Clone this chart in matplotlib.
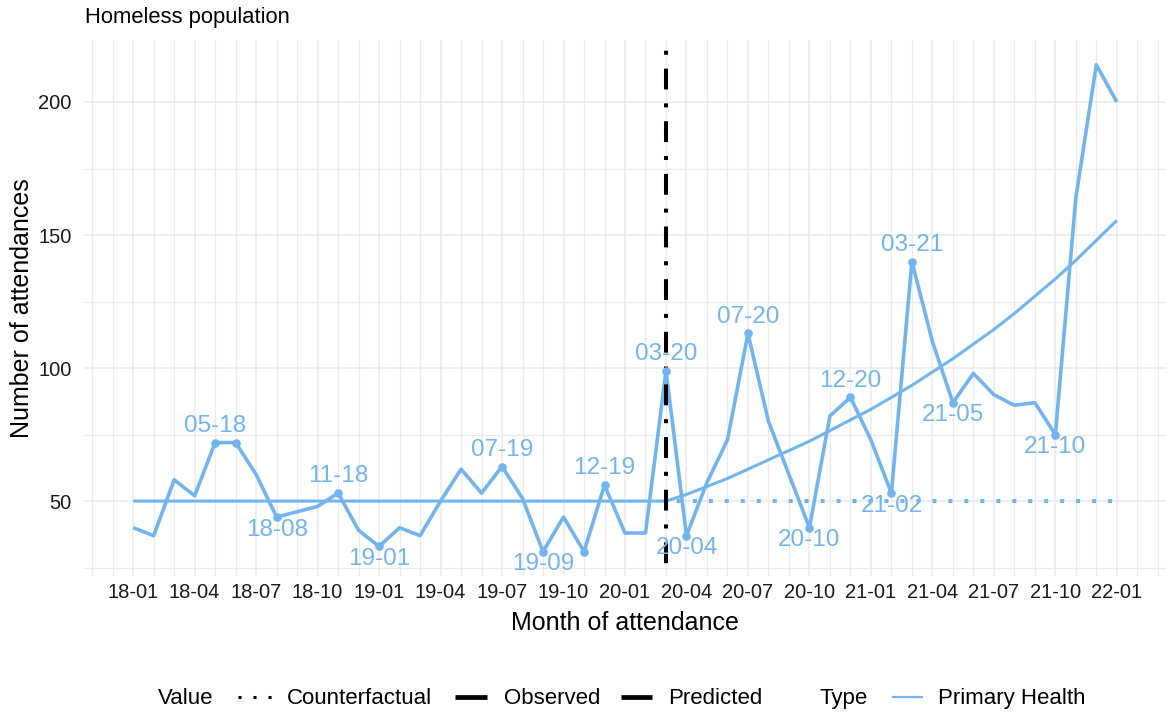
import matplotlib
matplotlib.use("Agg")
import matplotlib.pyplot as plt
from matplotlib.lines import Line2D
import numpy as np
import pandas as pd

plt.rcParams['font.family'] = ['Liberation Sans', 'DejaVu Sans']
plt.rcParams['lines.scale_dashes'] = False

# ---------------- data ----------------
months = pd.date_range("2018-01-01", "2022-01-01", freq="MS")
month_labels = [d.strftime("%y-%m") for d in months]

observed = [40, 37, 58, 52, 72, 72, 60, 44, 46, 48, 53, 39,
            33, 40, 37, 50, 62, 53, 63, 51, 31, 44, 31, 56,
            38, 38, 99, 37, 57, 73, 113, 80, 60, 40, 82, 89,
            73, 53, 140, 110, 87, 98, 90, 86, 87, 75, 164, 214,
            200]

predicted = [50, 50, 50, 50, 50, 50, 50, 50, 50, 50, 50, 50,
             50, 50, 50, 50, 50, 50, 50, 50, 50, 50, 50, 50,
             50, 50, 50, 52.5, 55.5, 58.5, 62, 65.5, 69, 72.5, 76.5, 80.5,
             84.5, 89, 93.5, 98.5, 103.5, 109, 114.5, 120.5, 127, 133.5, 140.5, 148,
             155.5]

counterfactual_months = month_labels[26:]
counterfactual = [50, 50, 50, 50, 50, 50, 50, 50, 50, 50, 50,
                  50, 50, 50, 50, 50, 50, 50, 50, 50, 50, 50, 50]

intervention_month = "20-03"

peak_months = ["18-05", "18-11", "19-07", "19-12", "20-03", "20-07", "20-12", "21-03"]
peak_labels = ["05-18", "11-18", "07-19", "12-19", "03-20", "07-20", "12-20", "03-21"]
trough_months = ["18-08", "19-01", "19-09", "20-04", "20-10", "21-02", "21-05", "21-10"]
trough_labels = ["18-08", "19-01", "19-09", "20-04", "20-10", "21-02", "21-05", "21-10"]
unlabelled_marker_months = ["18-06", "19-11"]

tick_months = month_labels[::3]
y_major = [50, 100, 150, 200]
y_minor = [25, 75, 125, 175, 225]

# ---------------- style ----------------
BLUE = "#72B5EE"
GRID = "#EBEBEB"
W, H = 1170, 718

fig = plt.figure(figsize=(W / 100, H / 100), dpi=100)


def fx(px):
    return px / W


def fy(py):
    return 1 - py / H


ax = fig.add_axes([fx(84), fy(576), fx(1166) - fx(84), fy(40.4) - fy(576)])
x = np.arange(len(month_labels))
idx = {m: i for i, m in enumerate(month_labels)}

ax.set_xlim(-2.4, len(month_labels) - 1 + 2.4)
ax.set_ylim(21.85, 223.15)

# grid
for m in range(-2, 51):
    ax.axvline(m, color=GRID, lw=0.9 if m % 3 else 1.1, zorder=0)
for v in y_minor:
    ax.axhline(v, color=GRID, lw=0.9, zorder=0)
for v in y_major:
    ax.axhline(v, color=GRID, lw=1.1, zorder=0)

for s in ax.spines.values():
    s.set_visible(False)

# counterfactual (dotted)
cx = [idx[m] for m in counterfactual_months]
ax.plot(cx, counterfactual, color=BLUE, lw=2.9, ls=(3.7, (2.9, 8.6)),
        dash_capstyle='butt', zorder=2)
# predicted
ax.plot(x, predicted, color=BLUE, lw=2.2, solid_joinstyle='round',
        solid_capstyle='butt', zorder=3)
# observed
ax.plot(x, observed, color=BLUE, lw=2.6, solid_joinstyle='round',
        solid_capstyle='butt', zorder=4)

# intervention line
xi = idx[intervention_month]
ax.plot([xi, xi], [223.15, 21.85], color='black', lw=2.9,
        ls=(17.3, (15, 10, 2.9, 10)), dash_capstyle='butt', zorder=5)

# markers
mk = [idx[m] for m in peak_months + trough_months + unlabelled_marker_months]
ax.plot(mk, [observed[i] for i in mk], 'o', color=BLUE, ms=6.2, mec='none', zorder=6)

for m, lab in zip(peak_months, peak_labels):
    i = idx[m]
    ax.annotate(lab, (i, observed[i]), xytext=(0, 7.7), textcoords='offset points',
                ha='center', va='baseline', color=BLUE, fontsize=17.5, zorder=7)
for m, lab in zip(trough_months, trough_labels):
    i = idx[m]
    ax.annotate(lab, (i, observed[i]), xytext=(0, -13.5), textcoords='offset points',
                ha='center', va='baseline', color=BLUE, fontsize=17.5, zorder=7)

# ticks
ax.set_xticks([idx[m] for m in tick_months])
ax.set_xticklabels(tick_months)
ax.set_yticks(y_major)
ax.set_yticklabels([str(v) for v in y_major])
ax.tick_params(axis='x', length=0, pad=5, labelsize=14.5, labelcolor='#1a1a1a')
ax.tick_params(axis='y', length=0, pad=9, labelsize=14.5, labelcolor='#1a1a1a')

# titles
fig.text(fx(85), fy(23), "Homeless population", ha='left', va='baseline',
         fontsize=15.8, color='black')
fig.text(fx(22), fy(308.5), "Number of attendances", rotation=90,
         ha='center', va='center', fontsize=18, color='black')
fig.text(fx(625), fy(623), "Month of attendance", ha='center', va='center',
         fontsize=18, color='black')

# legend
LY = 697
base = fy(704)
fig.text(fx(158), base, "Value", ha='left', va='baseline', fontsize=16)
fig.add_artist(Line2D([fx(237.5), fx(275)], [fy(LY), fy(LY)], transform=fig.transFigure,
                      color='black', lw=2.2, ls=(0, (2.2, 8.6)), dash_capstyle='butt'))
fig.text(fx(287), base, "Counterfactual", ha='left', va='baseline', fontsize=16)
fig.add_artist(Line2D([fx(455), fx(487)], [fy(LY), fy(LY)], transform=fig.transFigure,
                      color='black', lw=3.4, solid_capstyle='butt'))
fig.text(fx(504), base, "Observed", ha='left', va='baseline', fontsize=16)
fig.add_artist(Line2D([fx(621), fx(652)], [fy(LY), fy(LY)], transform=fig.transFigure,
                      color='black', lw=3.4, solid_capstyle='butt'))
fig.text(fx(668), base, "Predicted", ha='left', va='baseline', fontsize=16)
fig.text(fx(820), base, "Type", ha='left', va='baseline', fontsize=16)
fig.add_artist(Line2D([fx(892), fx(923)], [fy(LY), fy(LY)], transform=fig.transFigure,
                      color=BLUE, lw=1.6, solid_capstyle='butt'))
fig.text(fx(938), base, "Primary Health", ha='left', va='baseline', fontsize=16)

fig.savefig("out.png", dpi=100, facecolor='white')
